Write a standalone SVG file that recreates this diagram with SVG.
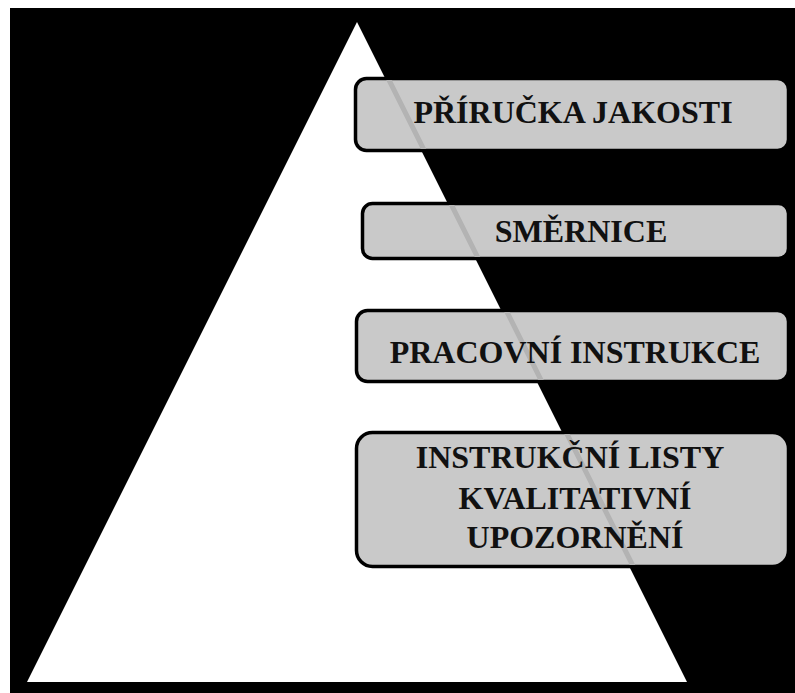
<svg xmlns="http://www.w3.org/2000/svg" width="795" height="693" viewBox="0 0 795 693">
<style>
.box{fill:#c9c9c9;stroke:#000;stroke-width:3.5}
.band{stroke:#b3b3b3;stroke-width:5;fill:none}
.t{font-family:"Liberation Serif","Times New Roman",serif;font-weight:bold;font-size:32px;fill:#111;text-anchor:middle}
</style>
<defs>
<clipPath id="c1"><rect x="357" y="80" width="430" height="69" rx="10"/></clipPath>
<clipPath id="c2"><rect x="364" y="205" width="423" height="52" rx="9"/></clipPath>
<clipPath id="c3"><rect x="358" y="312" width="429" height="68" rx="10"/></clipPath>
<clipPath id="c4"><rect x="358" y="434" width="429" height="131" rx="14"/></clipPath>
</defs>
<rect x="0" y="0" width="795" height="693" fill="#fff"/>
<rect x="10" y="8" width="785" height="685" fill="#000"/>
<polygon id="pyramid" points="357,22 687,682 27,682" fill="#fff"/>
<g id="n1">
<rect class="box" x="355.5" y="78.5" width="433" height="72" rx="11"/>
<line class="band" x1="379" y1="60" x2="429" y2="160" clip-path="url(#c1)"/>
<text class="t" x="573" y="123">PŘÍRUČKA JAKOSTI</text>
</g>
<g id="n2">
<rect class="box" x="362.5" y="203.5" width="426" height="55" rx="10"/>
<line class="band" x1="444" y1="190" x2="484" y2="270" clip-path="url(#c2)"/>
<text class="t" x="581" y="242">SMĚRNICE</text>
</g>
<g id="n3">
<rect class="box" x="356.5" y="310.5" width="432" height="71" rx="11"/>
<line class="band" x1="501" y1="300" x2="546" y2="390" clip-path="url(#c3)"/>
<text class="t" x="575" y="363">PRACOVNÍ INSTRUKCE</text>
</g>
<g id="n4">
<rect class="box" x="356.5" y="432.5" width="432" height="134" rx="16"/>
<line class="band" x1="560" y1="420" x2="640" y2="580" clip-path="url(#c4)"/>
<text class="t" x="570" y="468">INSTRUKČNÍ LISTY</text>
<text class="t" x="575" y="509">KVALITATIVNÍ</text>
<text class="t" x="575" y="548">UPOZORNĚNÍ</text>
</g>
</svg>
